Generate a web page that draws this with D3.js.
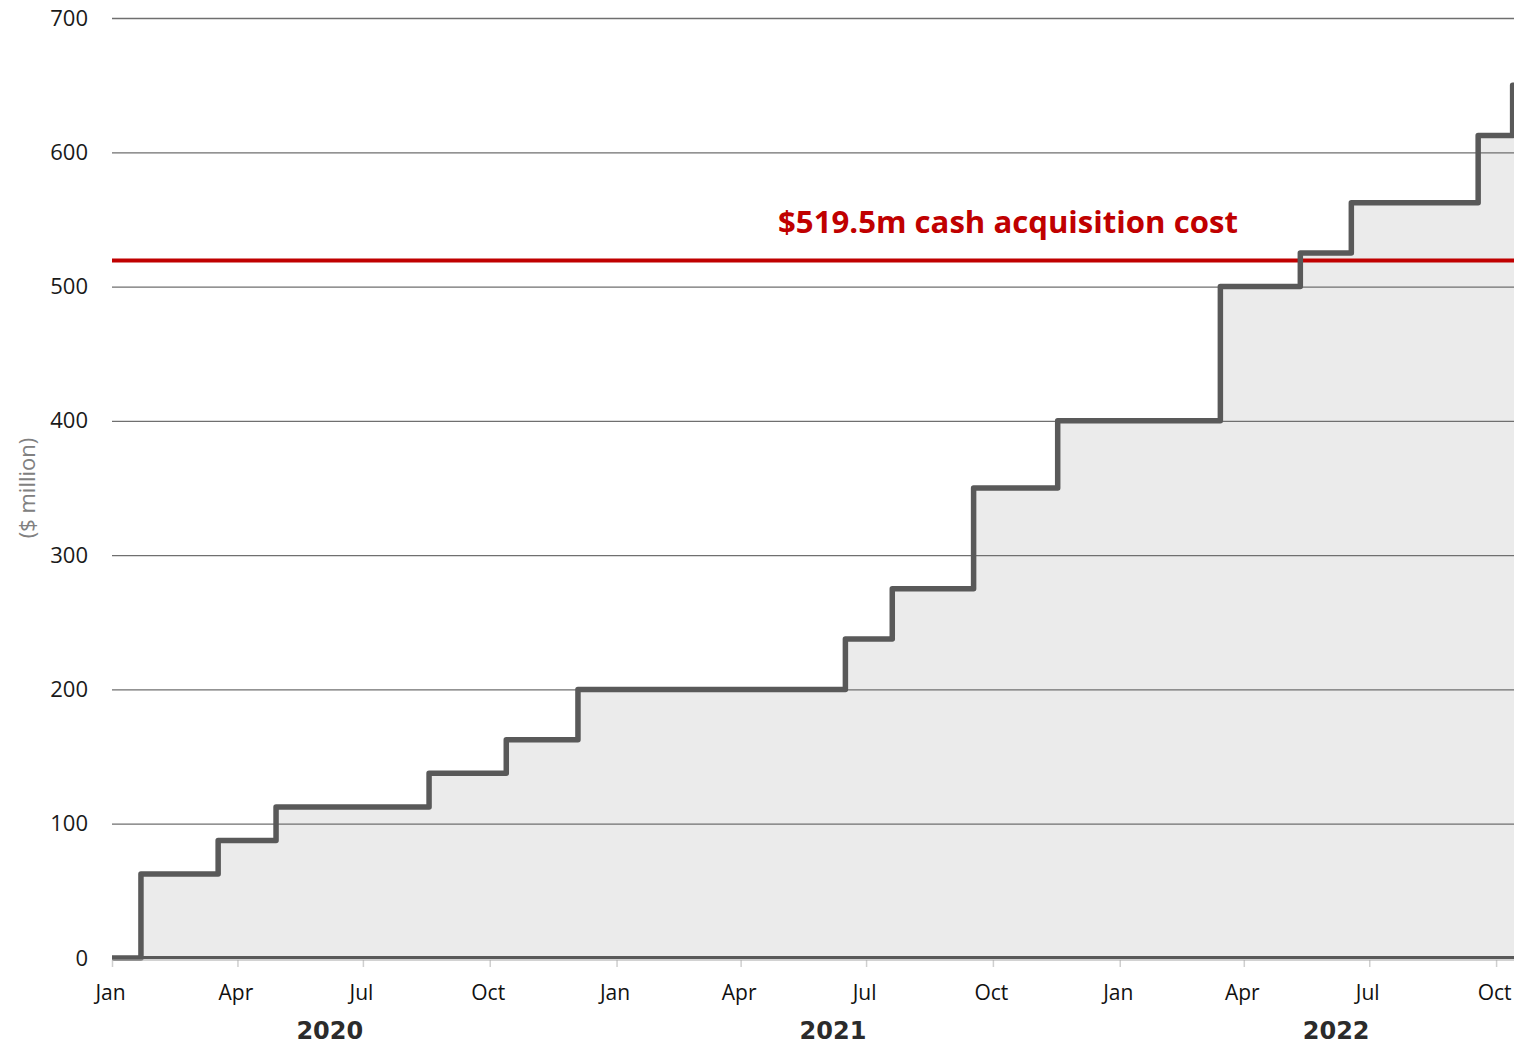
<!DOCTYPE html>
<html>
<head>
<meta charset="utf-8">
<script src="https://cdn.jsdelivr.net/npm/d3@7"></script>
<style>
  body { margin: 0; background: #fff; }
  svg { display: block; }
</style>
</head>
<body>
<div id="chart"></div>
<script>
// step dates and cumulative values ($ million)
var stepDates = ["2020-01-01", "2020-01-22", "2020-03-18", "2020-04-29", "2020-08-18",
                 "2020-10-13", "2020-12-04", "2021-06-16", "2021-07-20", "2021-09-17",
                 "2021-11-17", "2022-03-15", "2022-05-12", "2022-06-18", "2022-09-18",
                 "2022-10-13", "2022-10-14"];
var stepValues = [0, 62.5, 87.5, 112.5, 137.5, 162.5, 200, 237.5, 275, 350,
                  400, 500, 525, 562.5, 612.5, 650, 650];
var yTicks = [0, 100, 200, 300, 400, 500, 600, 700];
var years = [2020, 2021, 2022];
var targetValue = 519.5;
var targetLabel = "$519.5m cash acquisition cost";
var yTitle = "($ million)";

var w = 1514, h = 1046;
var mLeft = 112, mRight = 1514, mTop = 18, mBottom = 958;

var parse = d3.timeParse("%Y-%m-%d");
var data = stepDates.map(function (d, i) {
  return { date: parse(d), value: stepValues[i] };
});

var svg = d3.select("#chart").append("svg")
  .attr("width", w)
  .attr("height", h);

var x = d3.scaleTime()
  .domain([parse("2020-01-01"), parse("2022-10-14")])
  .range([mLeft, mRight]);

var y = d3.scaleLinear()
  .domain([0, 700])
  .range([mBottom, mTop]);

// shaded area under the steps
var area = d3.area()
  .curve(d3.curveStepAfter)
  .x(function (d) { return x(d.date); })
  .y0(y(0))
  .y1(function (d) { return y(d.value); });

svg.append("path")
  .datum(data)
  .attr("fill", "#ebebeb")
  .attr("d", area);

// horizontal gridlines + y labels
var yAxis = d3.axisLeft(y)
  .tickValues(yTicks)
  .tickSize(-(mRight - mLeft))
  .tickPadding(24);

var gy = svg.append("g")
  .attr("transform", "translate(" + mLeft + ",0)")
  .call(yAxis);
gy.select(".domain").remove();
gy.selectAll(".tick line")
  .attr("stroke", "#6f6f6f")
  .attr("stroke-width", 1.3)
  .filter(function (d) { return d === 0; }).remove();
gy.selectAll(".tick text")
  .attr("fill", "#1a1a1a")
  .style("font-family", "'Open Sans', sans-serif")
  .style("font-size", "22px");

// target line
svg.append("line")
  .attr("x1", mLeft).attr("x2", mRight)
  .attr("y1", y(targetValue)).attr("y2", y(targetValue))
  .attr("stroke", "#c00000")
  .attr("stroke-width", 4);

// step line
var line = d3.line()
  .curve(d3.curveStepAfter)
  .x(function (d) { return x(d.date); })
  .y(function (d) { return y(d.value); });

svg.append("path")
  .datum(data)
  .attr("fill", "none")
  .attr("stroke", "#595959")
  .attr("stroke-width", 5.5)
  .attr("stroke-linejoin", "round")
  .attr("d", line);

// x axis
var xAxis = d3.axisBottom(x)
  .ticks(d3.timeMonth.every(3))
  .tickFormat(d3.timeFormat("%b"))
  .tickSize(7)
  .tickPadding(18);

var gx = svg.append("g")
  .attr("transform", "translate(0," + (mBottom + 2) + ")")
  .call(xAxis);
gx.select(".domain").remove();
gx.selectAll(".tick line").attr("stroke", "#cfcfcf").attr("stroke-width", 1.5);
gx.selectAll(".tick text")
  .attr("dx", -2)
  .attr("fill", "#111")
  .style("font-family", "'Open Sans', sans-serif")
  .style("font-size", "21px");

svg.append("line")
  .attr("x1", mLeft).attr("x2", mRight)
  .attr("y1", mBottom - 0.5).attr("y2", mBottom - 0.5)
  .attr("stroke", "#595959").attr("stroke-width", 3);
svg.append("line")
  .attr("x1", mLeft).attr("x2", mRight)
  .attr("y1", mBottom + 2).attr("y2", mBottom + 2)
  .attr("stroke", "#a6a6a6").attr("stroke-width", 1.2);

// year labels
svg.selectAll(".year")
  .data(years)
  .enter().append("text")
  .attr("class", "year")
  .attr("x", function (d) { return x(new Date(d, 5, 7)); })
  .attr("y", 1039)
  .attr("text-anchor", "middle")
  .attr("fill", "#2b2b2b")
  .style("font-family", "'DejaVu Sans', sans-serif")
  .style("font-weight", "bold")
  .style("font-size", "24px")
  .text(function (d) { return d; });

// target label, fit to width seen in the original
var lbl = svg.append("text")
  .attr("x", 1008)
  .attr("y", 233)
  .attr("text-anchor", "middle")
  .attr("fill", "#c00000")
  .style("font-family", "'Open Sans', sans-serif")
  .style("font-weight", "bold")
  .style("font-size", "30px")
  .text(targetLabel);
var len = lbl.node().getComputedTextLength();
lbl.style("font-size", (30 * 460 / len) + "px");

// y title
svg.append("text")
  .attr("transform", "translate(35,488) rotate(-90)")
  .attr("text-anchor", "middle")
  .attr("fill", "#808080")
  .style("font-family", "'Open Sans', sans-serif")
  .style("font-size", "22px")
  .text(yTitle);
</script>
</body>
</html>
